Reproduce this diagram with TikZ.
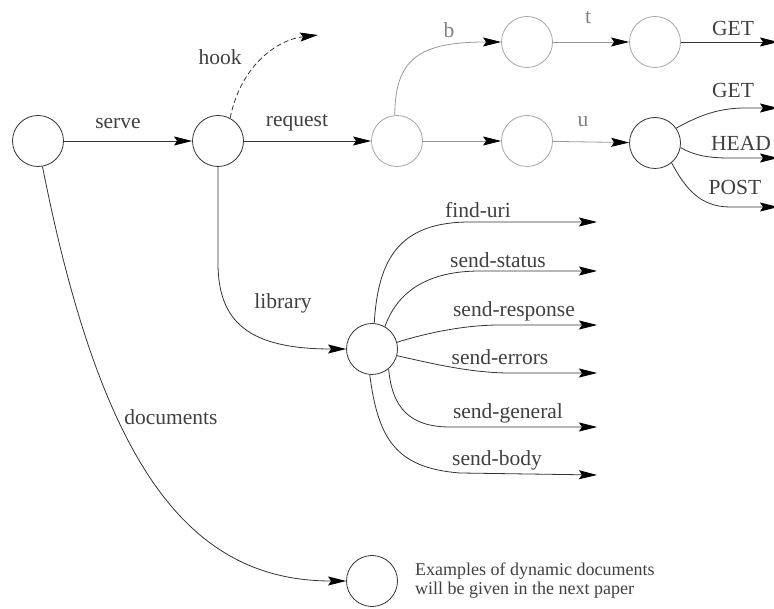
\documentclass[tikz,border=0pt]{standalone}
\usepackage{fontspec}
\setmainfont{Liberation Serif}
\usetikzlibrary{arrows.meta}
\begin{document}
\begin{tikzpicture}[x=1pt,y=1pt,
  state/.style={circle,draw=black!80,line width=0.8pt,minimum size=51pt,inner sep=0pt},
  faint/.style={draw=black!35},
  arr/.style={draw=black!80,line width=0.8pt,-{Stealth[length=18pt,width=9pt,inset=3pt,color=black]}},
  dim/.style={draw=black!40},
  lbl/.style={font=\fontsize{21.5}{24}\selectfont,text=black!75,inner sep=0pt},
  note/.style={font=\fontsize{18}{19}\selectfont,text=black!75,align=left,inner sep=0pt}]
\useasboundingbox (0,0) rectangle (774,608);

% states
\node[state] (A) at (38,467) {};
\node[state] (B) at (218,467) {};
\node[state,faint] (D) at (397,467) {};
\node[state,faint] (H) at (527,467) {};
\node[state] (C) at (655,465) {};
\node[state,faint] (E) at (527,566) {};
\node[state,faint] (G) at (655,566) {};
\node[state] (L) at (372,259) {};
\node[state] (M) at (372,27) {};

% free ends
\coordinate (hookend) at (318,573);
\coordinate (g1) at (778,566);
\coordinate (get) at (778,500);
\coordinate (head) at (778,450);
\coordinate (post) at (778,401);
\coordinate (fu) at (597,386);
\coordinate (ss) at (597,337);
\coordinate (sr) at (597,283);
\coordinate (se) at (597,235);
\coordinate (sg) at (597,181);
\coordinate (sb) at (597,133);

% server level
\draw[arr] (A) -- (B);
\draw[arr,dash pattern=on 5pt off 3pt] (B.62) .. controls (240,540) and (275,568) .. (hookend);
\draw[arr] (B) -- (D);
\draw[arr] (B.south) -- (218,345) .. controls (218,285) and (250,259) .. (L.west);
\draw[arr] (A.-80) .. controls (102,140) and (190,27) .. (M.west);

% request handling
\draw[arr,dim] (D) -- (H);
\draw[arr,dim] (D.95) .. controls (395,550) and (420,566) .. (E.west);
\draw[arr,dim] (E) -- (G);
\draw[arr] (G) -- (g1);
\draw[arr,dim] (H) -- (C);
\draw[arr] (C.35) .. controls (695,490) and (715,500) .. (745,500) -- (get);
\draw[arr] (C.-10) .. controls (695,452) and (710,450) .. (730,450) -- (head);
\draw[arr] (C.-50) .. controls (685,420) and (700,401) .. (730,401) -- (post);

% library calls
\draw[arr] (L.85) .. controls (378,350) and (400,386) .. (470,386) -- (fu);
\draw[arr] (L.60) .. controls (395,310) and (420,337) .. (480,337) -- (ss);
\draw[arr] (L.15) .. controls (420,273) and (460,283) .. (500,283) -- (sr);
\draw[arr] (L.-15) .. controls (430,245) and (470,235) .. (510,235) -- (se);
\draw[arr] (L.-50) .. controls (392,200) and (410,181) .. (450,181) -- (sg);
\draw[arr] (L.-95) .. controls (378,170) and (395,140) .. (460,135) -- (sb);

% labels
\node[lbl] (l-serve) at (118,484) {serve};
\node[lbl] (l-request) at (297,485) {request};
\node[lbl] (l-hook) at (220,551) {hook};
\node[lbl] (l-library) at (283,305) {library};
\node[lbl] (l-documents) at (171,191) {documents};
\node[lbl,text=black!50] (l-b) at (449,578) {b};
\node[lbl,text=black!50] (l-t) at (588,590) {t};
\node[lbl,text=black!50] (l-u) at (583,486) {u};
\node[lbl] (l-get1) at (733,580) {GET};
\node[lbl] (l-get2) at (733,518) {GET};
\node[lbl] (l-head) at (741,465) {HEAD};
\node[lbl] (l-post) at (735,421) {POST};
\node[lbl] (l-fu) at (478,398) {find-uri};
\node[lbl] (l-ss) at (498,348) {send-status};
\node[lbl] (l-sr) at (514,297) {send-response};
\node[lbl] (l-se) at (500,251) {send-errors};
\node[lbl] (l-sg) at (508,195) {send-general};
\node[lbl] (l-sb) at (497,148) {send-body};
\node[note,anchor=west] (l-note) at (415,27.5) {Examples of dynamic documents\\will be given in the next paper};
\end{tikzpicture}
\end{document}
